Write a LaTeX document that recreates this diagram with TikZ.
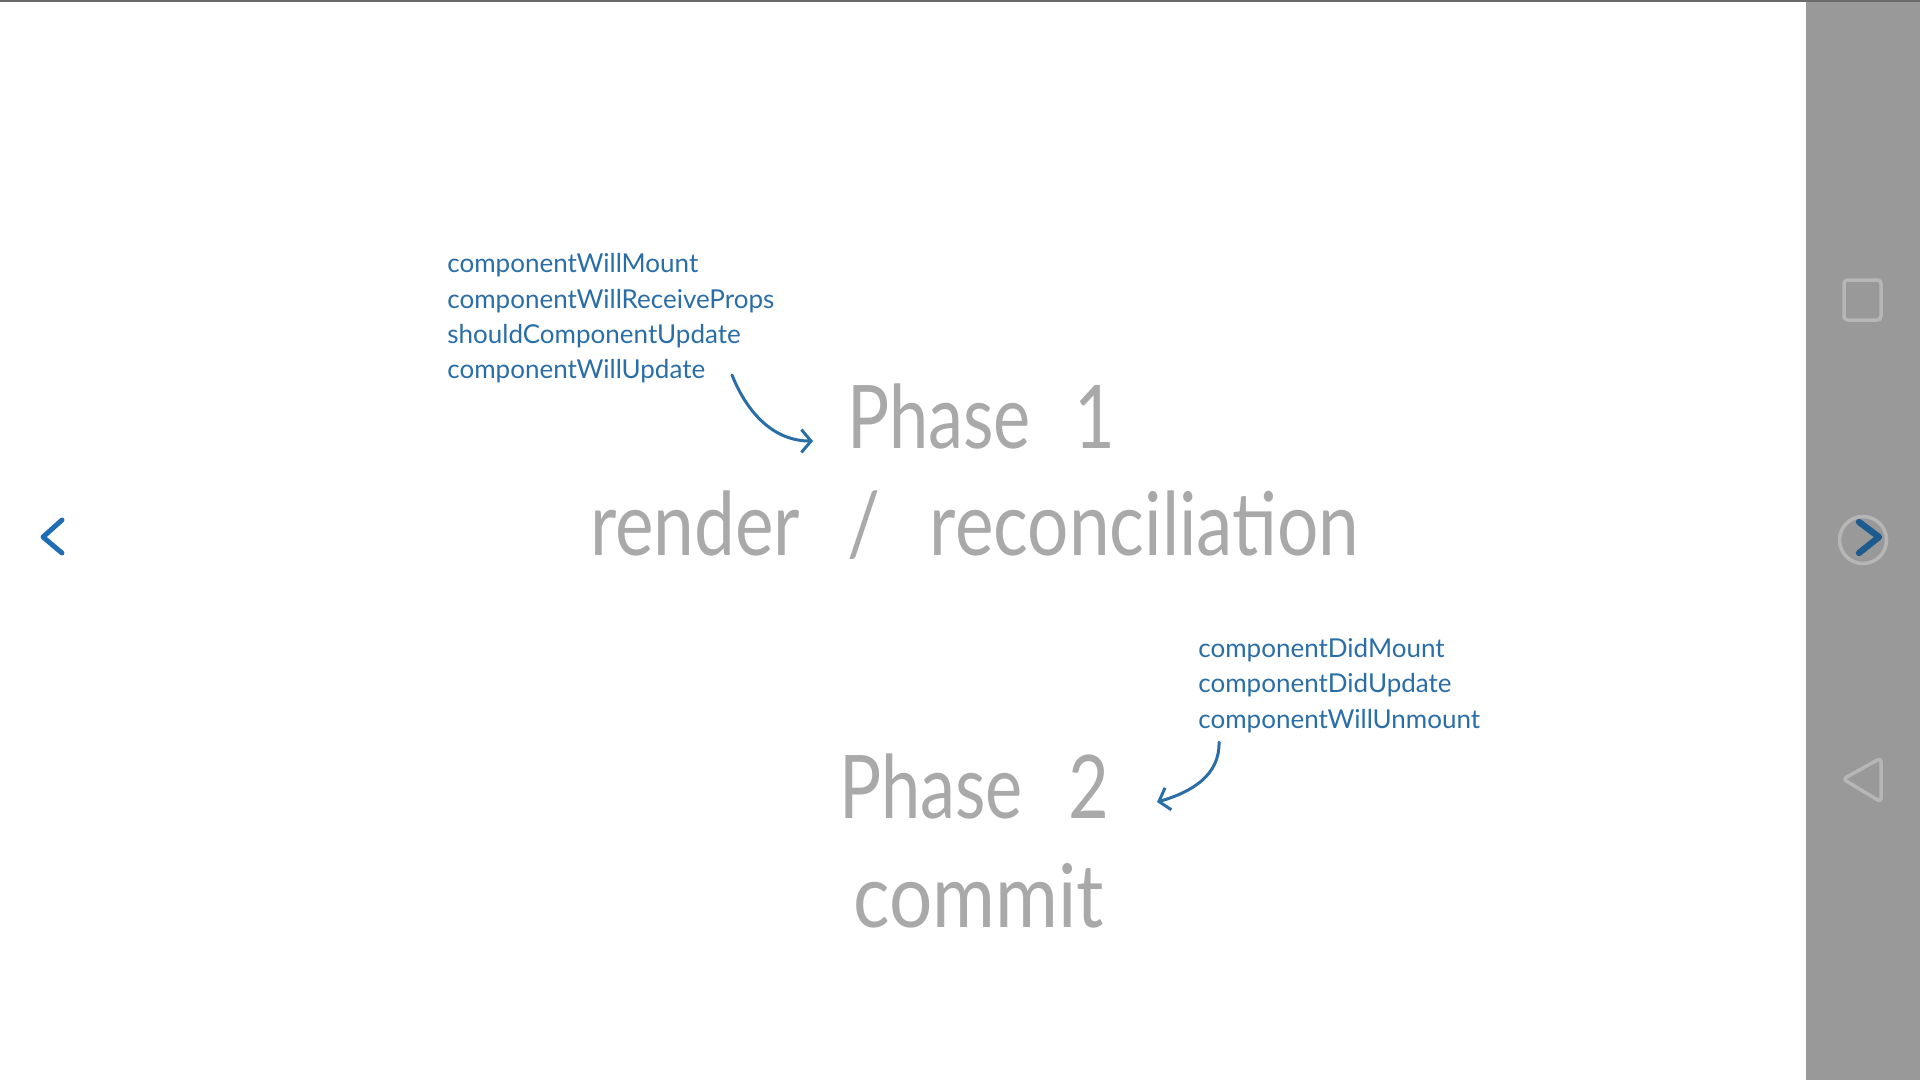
\documentclass[tikz,border=0pt]{standalone}
\usepackage{fontspec}
\setmainfont{Lato}
\newfontfamily\hookfont{Lato}
\newfontfamily\phasefont[FakeStretch=0.8]{Lato}
\newfontfamily\reconfont[FakeStretch=0.83]{Lato}
\newfontfamily\commitfont[FakeStretch=0.87]{Lato}
\usetikzlibrary{arrows.meta}
\definecolor{hookblue}{HTML}{2A6EA8}
\definecolor{navblue}{HTML}{1F6DB4}
\definecolor{navdark}{HTML}{1D5A8E}
\definecolor{phasegray}{HTML}{A8A9A8}
\definecolor{barbg}{HTML}{989998}
\definecolor{iconline}{HTML}{B5B6B5}
\definecolor{topline}{HTML}{6B6B6B}
\begin{document}
\begin{tikzpicture}[
    x=0.02cm, y=-0.02cm,
    hook/.style={anchor=base west, inner sep=0pt, text=hookblue, font=\hookfont\fontsize{14.8}{18}\selectfont},
    phase/.style={anchor=base west, inner sep=0pt, text=phasegray, font=\phasefont\fontsize{50}{60}\selectfont},
    hookarrow/.style={hookblue, line width=1.7pt, line cap=round, -{Straight Barb[length=5.5pt, width=13pt, line width=1.7pt]}},
    icon/.style={iconline, line width=2pt, line join=round}
  ]
    % Canvas and side bar
    \useasboundingbox (0,0) rectangle (1920,1080);
    \fill[white] (0,0) rectangle (1920,1080);
    \fill[barbg] (1806,0) rectangle (1920,1080);
    \draw[topline, line width=1.2pt] (0,1) -- (1920,1);

    % Render phase hooks
    \node[hook] (wmount) at (447,272) {componentWillMount};
    \node[hook] (wprops) at (447,308) {componentWillReceiveProps};
    \node[hook] (supdate) at (447,343) {shouldComponentUpdate};
    \node[hook] (wupdate) at (447,378) {componentWillUpdate};

    % Phases
    \node[phase] (ph1) at (847,448) {Phase\hspace{25pt}1};
    \node[phase, font=\reconfont\fontsize{50}{60}\selectfont] (recon) at (590,555) {render\hspace{27pt}/\hspace{28pt}reconciliation};
    \node[phase] (ph2) at (839,818) {Phase\hspace{26pt}2};
    \node[phase, font=\commitfont\fontsize{50}{60}\selectfont] (commit) at (853,927) {commit};

    % Commit phase hooks
    \node[hook] (dmount) at (1198,657) {componentDidMount};
    \node[hook] (dupdate) at (1198,692) {componentDidUpdate};
    \node[hook] (wunmount) at (1198,728) {componentWillUnmount};

    % Arrows
    \coordinate (a1s) at (732,375);
    \coordinate (a1e) at (813,441);
    \draw[hookarrow] (a1s) .. controls (748,415) and (775,441) .. (a1e);
    \coordinate (a2s) at (1219,742);
    \coordinate (a2e) at (1157,802);
    \draw[hookarrow] (a2s) .. controls (1220,775) and (1192,792) .. (a2e);

    % Navigation
    \draw[navblue, line width=2.8pt, line cap=round, line join=round] (62,520) -- (43,537) -- (62,553);
    \draw[icon, rounded corners=2pt] (1844,280) rectangle (1881,320);
    \draw[icon] (1863,540) circle [radius=0.47cm];
    \draw[navdark, line width=3.6pt, line cap=round, line join=round] (1859,522) -- (1879,537) -- (1859,553);
    \draw[icon, rounded corners=2pt] (1881,758) -- (1843,779) -- (1881,802) -- cycle;
  \end{tikzpicture}
\end{document}
